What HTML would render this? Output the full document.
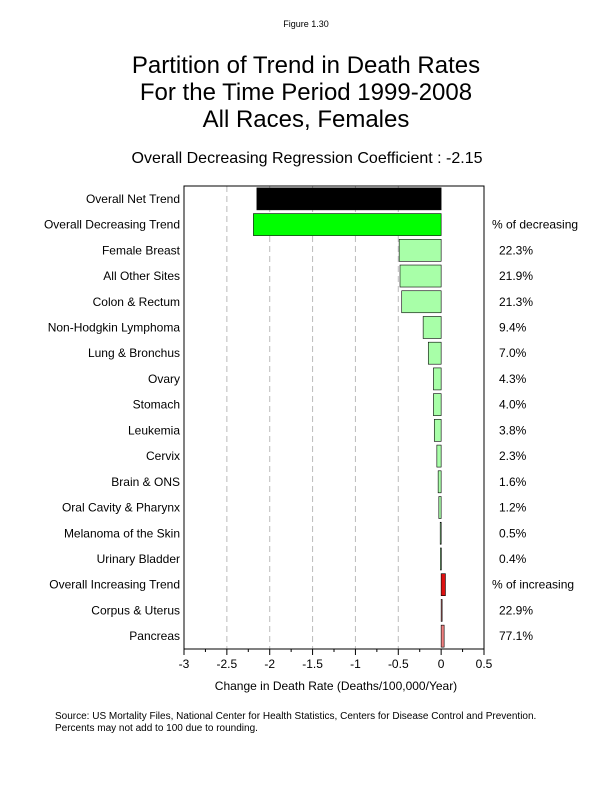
<!DOCTYPE html>
<html><head><meta charset="utf-8"><style>
body{margin:0;background:#fff;font-family:"Liberation Sans",sans-serif;}
</style></head><body>
<svg width="612" height="792" xmlns="http://www.w3.org/2000/svg" font-family="Liberation Sans, sans-serif">
<text x="306" y="27" font-size="9" text-anchor="middle">Figure 1.30</text>
<text x="306" y="73" font-size="24" text-anchor="middle">Partition of Trend in Death Rates</text>
<text x="306" y="100" font-size="24" text-anchor="middle">For the Time Period 1999-2008</text>
<text x="306" y="127" font-size="24" text-anchor="middle">All Races, Females</text>
<text x="307" y="163" font-size="16" text-anchor="middle">Overall Decreasing Regression Coefficient : -2.15</text>
<g id="plot"></g>
<text x="336" y="690" font-size="12" text-anchor="middle">Change in Death Rate (Deaths/100,000/Year)</text>
<text x="55" y="719" font-size="10">Source:  US Mortality Files, National Center for Health Statistics, Centers for Disease Control and Prevention.</text>
<text x="55" y="731" font-size="10">Percents may not add to 100 due to rounding.</text>
</svg>
<script>
const categories=["Overall Net Trend","Overall Decreasing Trend","Female Breast","All Other Sites","Colon & Rectum","Non-Hodgkin Lymphoma","Lung & Bronchus","Ovary","Stomach","Leukemia","Cervix","Brain & ONS","Oral Cavity & Pharynx","Melanoma of the Skin","Urinary Bladder","Overall Increasing Trend","Corpus & Uterus","Pancreas"];
const values=[-2.15,-2.19,-0.49,-0.48,-0.46,-0.21,-0.15,-0.09,-0.09,-0.08,-0.05,-0.035,-0.027,-0.011,-0.009,0.05,0.01,0.035];
const percents=["","% of decreasing","22.3%","21.9%","21.3%","9.4%","7.0%","4.3%","4.0%","3.8%","2.3%","1.6%","1.2%","0.5%","0.4%","% of increasing","22.9%","77.1%"];
const colors=["#000000","#00ff00","#a8ffa8","#a8ffa8","#a8ffa8","#a8ffa8","#a8ffa8","#a8ffa8","#a8ffa8","#a8ffa8","#a8ffa8","#a8ffa8","#a8ffa8","#a8ffa8","#a8ffa8","#dd1111","#f08080","#f08080"];
const ticks=[-3,-2.5,-2,-1.5,-1,-0.5,0,0.5];
const tickLabels=["-3","-2.5","-2","-1.5","-1","-0.5","0","0.5"];
const NS="http://www.w3.org/2000/svg";
const L=184,R=484,T=186,B=649,xmin=-3,xmax=0.5;
const X=v=>L+(v-xmin)/(xmax-xmin)*(R-L);
const rowH=(B-T)/categories.length;
const Y=i=>T+rowH*(i+0.5);
const g=document.getElementById('plot');
function mk(t,a){const e=document.createElementNS(NS,t);for(const k in a)e.setAttribute(k,a[k]);g.appendChild(e);return e;}
ticks.forEach((t,i)=>{
 if(t>xmin&&t<0){const l=mk('line',{x1:X(t),x2:X(t),y1:T,y2:B,stroke:'#bbb','stroke-dasharray':'6,4'});
 
 }
 const tk=mk('line',{x1:X(t),x2:X(t),y1:B,y2:B+6,stroke:'#000'});
 
 
 const tx=mk('text',{x:X(t),y:B+19,'font-size':12,'text-anchor':'middle'});tx.textContent=tickLabels[i];
 
 
 if(i<ticks.length-1){const m=mk('line',{x1:X(t+0.25),x2:X(t+0.25),y1:B,y2:B+3,stroke:'#000'});
 
 }
});
categories.forEach((c,i)=>{
 const v=values[i],x0=Math.min(X(0),X(v)),w=Math.max(1,Math.abs(X(v)-X(0)));
 const b=mk('rect',{x:x0,y:Y(i)-11,width:w,height:22,fill:colors[i],stroke:'#000','stroke-width':0.6});
 
 
 const t=mk('text',{x:180,y:Y(i)+4,'font-size':12,'text-anchor':'end'});t.textContent=c;
 
 
 if(percents[i]){const p=mk('text',{x:percents[i].startsWith('%')?492:499,y:Y(i)+4,'font-size':12});p.textContent=percents[i];
 
 }
});
const f=mk('rect',{x:L,y:T,width:R-L,height:B-T,fill:'none',stroke:'#000','stroke-width':1});


</script>
</body></html>
